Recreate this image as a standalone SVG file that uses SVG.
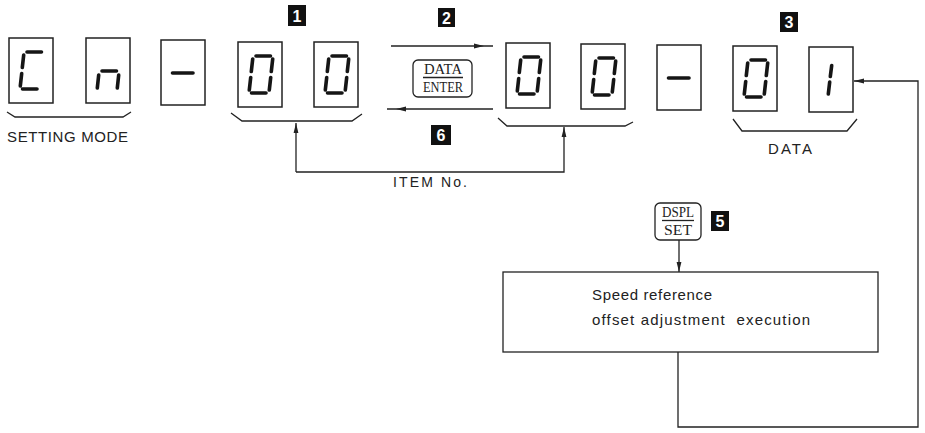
<svg xmlns="http://www.w3.org/2000/svg" xmlns:xlink="http://www.w3.org/1999/xlink" width="925" height="433" viewBox="0 0 925 433">
<style>
.disp{fill:#fff;stroke:#222;stroke-width:1.5}
.seg{stroke:#151515;stroke-width:3.6;stroke-linecap:round;fill:none}
.ln{stroke:#222;stroke-width:1.3;fill:none}
.sq{fill:#111}
.num{fill:#fff;font-family:"Liberation Sans",Arial,sans-serif;font-weight:bold;font-size:16px;text-anchor:middle}
.t{font-family:"Liberation Sans",Arial,sans-serif;fill:#222}
.key{fill:#fff;stroke:#222;stroke-width:1.3}
.kt{font-family:"Liberation Serif","Times New Roman",serif;font-size:14px;fill:#222;text-anchor:middle}
</style>
<defs>
<marker id="ah" viewBox="0 0 10 6" refX="10" refY="3" markerWidth="10" markerHeight="6" markerUnits="userSpaceOnUse" orient="auto">
<path d="M0,0.6 L10,3 L0,5.4 Z" fill="#222"/>
</marker>
<path id="d0" class="seg" d="M18,14H32.5 M34.7,17L33.3,29.5 M32.7,35.5L31.3,48 M13.5,51H28 M12.7,35.5L11.3,48 M14.7,17L13.3,29.5"/>
<path id="dC" class="seg" d="M18,14H32.5 M13.5,51H28 M12.7,35.5L11.3,48 M14.7,17L13.3,29.5"/>
<path id="dn" class="seg" d="M16,33H30.5 M32.7,37L31.3,50 M12.7,37L11.3,50"/>
<path id="d1" class="seg" d="M22.7,18.5L21.3,29.5 M20.7,35L19.3,47"/>
<path id="dm" class="seg" d="M11.5,33H32"/>
</defs>

<g id="disp-C"><rect class="disp" x="9" y="38" width="44" height="65"/><use xlink:href="#dC" x="9" y="38"/></g>
<g id="disp-n"><rect class="disp" x="86" y="38" width="44" height="65"/><use xlink:href="#dn" x="86" y="38"/></g>
<g id="disp-dash1"><rect class="disp" x="161" y="40" width="44" height="65"/><use xlink:href="#dm" x="161" y="40"/></g>
<g id="disp-0a"><rect class="disp" x="238" y="42" width="44" height="65"/><use xlink:href="#d0" x="238" y="42"/></g>
<g id="disp-0b"><rect class="disp" x="314" y="42" width="44" height="65"/><use xlink:href="#d0" x="314" y="42"/></g>
<g id="disp-0c"><rect class="disp" x="506" y="43" width="44" height="65"/><use xlink:href="#d0" x="506" y="43"/></g>
<g id="disp-0d"><rect class="disp" x="581" y="44" width="44" height="65"/><use xlink:href="#d0" x="581" y="44"/></g>
<g id="disp-dash2"><rect class="disp" x="657" y="45" width="44" height="65"/><use xlink:href="#dm" x="657" y="45"/></g>
<g id="disp-0e"><rect class="disp" x="733" y="46" width="44" height="65"/><use xlink:href="#d0" x="733" y="46"/></g>
<g id="disp-1"><rect class="disp" x="809" y="47" width="44" height="65"/><use xlink:href="#d1" x="809" y="47"/></g>

<g id="key-data-enter">
<rect class="key" x="413" y="60" width="59" height="37" rx="5"/>
<text class="kt" x="443" y="74" textLength="38" lengthAdjust="spacingAndGlyphs">DATA</text>
<line class="ln" x1="423" y1="77.5" x2="463" y2="77.5"/>
<text class="kt" x="443" y="92" textLength="40" lengthAdjust="spacingAndGlyphs">ENTER</text>
</g>

<g id="key-dspl-set">
<rect class="key" x="655" y="203" width="46" height="37" rx="5"/>
<text class="kt" x="678" y="217" textLength="32" lengthAdjust="spacingAndGlyphs">DSPL</text>
<line class="ln" x1="662" y1="220.5" x2="694" y2="220.5"/>
<text class="kt" x="678" y="235" textLength="28" lengthAdjust="spacingAndGlyphs">SET</text>
</g>

<g id="process-box">
<rect x="503" y="272" width="375" height="80" fill="#fff" stroke="#222" stroke-width="1.3"/>
<text class="t" x="592" y="300" font-size="15" textLength="120">Speed reference</text>
<text class="t" x="592" y="325" font-size="15" textLength="218" xml:space="preserve">offset adjustment  execution</text>
</g>

<g id="labels">
<rect class="sq" x="288" y="5" width="18" height="21"/><text class="num" x="297" y="22">1</text>
<rect class="sq" x="438" y="8" width="17" height="19"/><text class="num" x="446.5" y="24">2</text>
<rect class="sq" x="780" y="12" width="18" height="20"/><text class="num" x="789" y="28">3</text>
<rect class="sq" x="431" y="125" width="20" height="20"/><text class="num" x="441" y="141">6</text>
<rect class="sq" x="711" y="211" width="18" height="20"/><text class="num" x="720" y="227">5</text>
<text class="t" x="7" y="142" font-size="15" textLength="121">SETTING MODE</text>
<text class="t" x="393" y="187" font-size="14" textLength="74">ITEM No.</text>
<text class="t" x="768" y="154" font-size="15" textLength="44">DATA</text>
</g>

<g id="connectors">
<path class="ln" d="M7,112 L15,117 H123 L131,112"/>
<path class="ln" d="M231,113 L242,121 H352 L362,114"/>
<path class="ln" d="M498,118 L507,126 H625 L633,122"/>
<path class="ln" d="M733,119 L742,131 H847 L857,119"/>
<polyline class="ln" points="391,46 484,46 493,46" marker-mid="url(#ah)"/>
<polyline class="ln" points="493,109 396,109 387,109" marker-mid="url(#ah)"/>
<path class="ln" d="M296,172 V123" marker-end="url(#ah)"/>
<path class="ln" d="M296,172 H564 V127" marker-end="url(#ah)"/>
<path class="ln" d="M679,240 V272" marker-end="url(#ah)"/>
<path class="ln" d="M678,352 V427 H918 V81 H854" marker-end="url(#ah)"/>
</g>
</svg>
